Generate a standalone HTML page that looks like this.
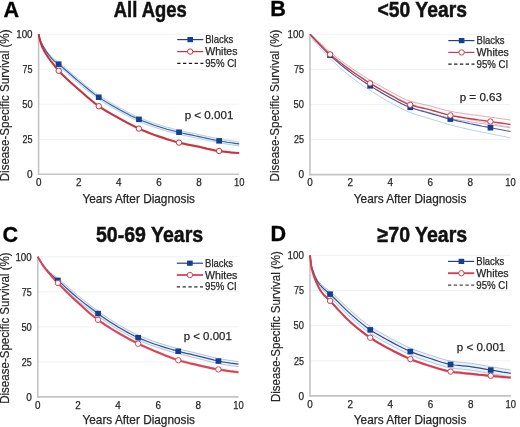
<!DOCTYPE html><html><head><meta charset="utf-8"><style>html,body{margin:0;padding:0;background:#fff;overflow:hidden}svg{display:block}text{font-family:"Liberation Sans", sans-serif}svg{will-change:transform}</style></head><body>
<svg width="520" height="427" viewBox="0 0 520 427">
<rect width="520" height="427" fill="#fff"/>
<g><line x1="38.6" y1="139.3" x2="239.2" y2="139.3" stroke="#f1f1f1" stroke-width="1"/><line x1="38.6" y1="104.2" x2="239.2" y2="104.2" stroke="#f1f1f1" stroke-width="1"/><line x1="38.6" y1="69.2" x2="239.2" y2="69.2" stroke="#f1f1f1" stroke-width="1"/><line x1="38.6" y1="34.2" x2="239.2" y2="34.2" stroke="#f1f1f1" stroke-width="1"/><line x1="38.6" y1="34.2" x2="38.6" y2="175.1" stroke="#c4c4c4" stroke-width="1.6"/><line x1="37.8" y1="174.3" x2="239.2" y2="174.3" stroke="#c4c4c4" stroke-width="1.6"/><text x="27" y="178" font-size="10.5" fill="#262626" stroke="#262626" stroke-width="0.25" textLength="5.6" lengthAdjust="spacingAndGlyphs">0</text><text x="22.6" y="143" font-size="10.5" fill="#262626" stroke="#262626" stroke-width="0.25" textLength="10" lengthAdjust="spacingAndGlyphs">25</text><text x="22.2" y="108" font-size="10.5" fill="#262626" stroke="#262626" stroke-width="0.25" textLength="10.4" lengthAdjust="spacingAndGlyphs">50</text><text x="22.6" y="72.9" font-size="10.5" fill="#262626" stroke="#262626" stroke-width="0.25" textLength="10" lengthAdjust="spacingAndGlyphs">75</text><text x="16.2" y="37.9" font-size="10.5" fill="#262626" stroke="#262626" stroke-width="0.25" textLength="16.4" lengthAdjust="spacingAndGlyphs">100</text><text x="35.9" y="186.1" font-size="10.5" fill="#262626" stroke="#262626" stroke-width="0.25" textLength="5.5" lengthAdjust="spacingAndGlyphs">0</text><text x="76" y="186.1" font-size="10.5" fill="#262626" stroke="#262626" stroke-width="0.25" textLength="5.5" lengthAdjust="spacingAndGlyphs">2</text><text x="116.1" y="186.1" font-size="10.5" fill="#262626" stroke="#262626" stroke-width="0.25" textLength="5.5" lengthAdjust="spacingAndGlyphs">4</text><text x="156.2" y="186.1" font-size="10.5" fill="#262626" stroke="#262626" stroke-width="0.25" textLength="5.5" lengthAdjust="spacingAndGlyphs">6</text><text x="196.3" y="186.1" font-size="10.5" fill="#262626" stroke="#262626" stroke-width="0.25" textLength="5.5" lengthAdjust="spacingAndGlyphs">8</text><text x="233.9" y="186.1" font-size="10.5" fill="#262626" stroke="#262626" stroke-width="0.25" textLength="10.5" lengthAdjust="spacingAndGlyphs">10</text><polygon points="38.6,34.2 40,40.5 41.5,44.8 42.6,47.5 42.9,48.1 44.3,50.8 45.8,53.2 46.6,54.6 47.2,55.5 48.6,57.5 50.1,59.5 50.6,60.2 51.5,61.3 52.9,63 54.4,64.8 54.6,65.1 55.8,66.6 57.2,68.4 58.7,70.1 62.7,74.3 66.7,78.1 70.7,81.7 74.7,85.2 78.7,88.7 82.7,92.3 86.7,95.8 90.8,99.3 94.8,102.5 98.8,105.5 102.8,108.2 106.8,110.6 110.8,113 114.8,115.2 118.8,117.4 122.9,119.7 126.9,121.9 130.9,124 134.9,126 138.9,127.9 142.9,129.7 146.9,131.3 150.9,132.9 154.9,134.4 159,135.8 163,137.1 167,138.5 171,139.7 175,140.9 179,141.9 183,142.9 187,143.7 191.1,144.5 195.1,145.3 199.1,146.1 203.1,147 207.1,148 211.1,148.9 215.1,149.7 219.1,150.3 223.2,150.9 227.2,151.3 231.2,151.7 235.2,152.1 239.2,152.3 239.2,153.7 235.2,153.5 231.2,153.2 227.2,152.7 223.2,152.3 219.1,151.7 215.1,151.1 211.1,150.3 207.1,149.4 203.1,148.4 199.1,147.5 195.1,146.7 191.1,145.9 187,145.1 183,144.3 179,143.3 175,142.3 171,141.1 167,139.9 163,138.5 159,137.2 154.9,135.8 150.9,134.3 146.9,132.7 142.9,131.1 138.9,129.3 134.9,127.4 130.9,125.4 126.9,123.3 122.9,121.1 118.8,118.8 114.8,116.6 110.8,114.4 106.8,112 102.8,109.6 98.8,106.9 94.8,103.9 90.8,100.7 86.7,97.2 82.7,93.7 78.7,90.1 74.7,86.6 70.7,83.1 66.7,79.5 62.7,75.7 58.7,71.5 57.2,69.8 55.8,67.9 54.6,66.4 54.4,66 52.9,64.2 51.5,62.4 50.6,61.3 50.1,60.5 48.6,58.5 47.2,56.4 46.6,55.5 45.8,54.1 44.3,51.6 42.9,48.7 42.6,48.1 41.5,45.4 40,40.9 38.6,34.2" fill="#fbe9ea" stroke="none"/><path d="M38.6,34.2 L40,40.5 L41.5,44.8 L42.6,47.5 L42.9,48.1 L44.3,50.8 L45.8,53.2 L46.6,54.6 L47.2,55.5 L48.6,57.5 L50.1,59.5 L50.6,60.2 L51.5,61.3 L52.9,63 L54.4,64.8 L54.6,65.1 L55.8,66.6 L57.2,68.4 L58.7,70.1 L62.7,74.3 L66.7,78.1 L70.7,81.7 L74.7,85.2 L78.7,88.7 L82.7,92.3 L86.7,95.8 L90.8,99.3 L94.8,102.5 L98.8,105.5 L102.8,108.2 L106.8,110.6 L110.8,113 L114.8,115.2 L118.8,117.4 L122.9,119.7 L126.9,121.9 L130.9,124 L134.9,126 L138.9,127.9 L142.9,129.7 L146.9,131.3 L150.9,132.9 L154.9,134.4 L159,135.8 L163,137.1 L167,138.5 L171,139.7 L175,140.9 L179,141.9 L183,142.9 L187,143.7 L191.1,144.5 L195.1,145.3 L199.1,146.1 L203.1,147 L207.1,148 L211.1,148.9 L215.1,149.7 L219.1,150.3 L223.2,150.9 L227.2,151.3 L231.2,151.7 L235.2,152.1 L239.2,152.3" fill="none" stroke="#eeb0b5" stroke-width="0.8"/><path d="M38.6,34.2 L40,40.9 L41.5,45.4 L42.6,48.1 L42.9,48.7 L44.3,51.6 L45.8,54.1 L46.6,55.5 L47.2,56.4 L48.6,58.5 L50.1,60.5 L50.6,61.3 L51.5,62.4 L52.9,64.2 L54.4,66 L54.6,66.4 L55.8,67.9 L57.2,69.8 L58.7,71.5 L62.7,75.7 L66.7,79.5 L70.7,83.1 L74.7,86.6 L78.7,90.1 L82.7,93.7 L86.7,97.2 L90.8,100.7 L94.8,103.9 L98.8,106.9 L102.8,109.6 L106.8,112 L110.8,114.4 L114.8,116.6 L118.8,118.8 L122.9,121.1 L126.9,123.3 L130.9,125.4 L134.9,127.4 L138.9,129.3 L142.9,131.1 L146.9,132.7 L150.9,134.3 L154.9,135.8 L159,137.2 L163,138.5 L167,139.9 L171,141.1 L175,142.3 L179,143.3 L183,144.3 L187,145.1 L191.1,145.9 L195.1,146.7 L199.1,147.5 L203.1,148.4 L207.1,149.4 L211.1,150.3 L215.1,151.1 L219.1,151.7 L223.2,152.3 L227.2,152.7 L231.2,153.2 L235.2,153.5 L239.2,153.7" fill="none" stroke="#eeb0b5" stroke-width="0.8"/><polygon points="38.6,34.2 40,38.6 41.5,42.2 42.6,44.3 42.9,44.8 44.3,47.2 45.8,49.4 46.6,50.6 47.2,51.4 48.6,53.2 50.1,54.9 50.6,55.6 51.5,56.5 52.9,58 54.4,59.2 54.6,59.4 55.8,60.2 57.2,61.1 58.7,62.1 62.7,65.5 66.7,68.9 70.7,72.5 74.7,76 78.7,79.4 82.7,82.7 86.7,86 90.8,89.3 94.8,92.3 98.8,95.2 102.8,97.9 106.8,100.4 110.8,102.8 114.8,105 118.8,107.3 122.9,109.4 126.9,111.6 130.9,113.6 134.9,115.6 138.9,117.3 142.9,119 146.9,120.6 150.9,122.1 154.9,123.5 159,124.8 163,126 167,127.1 171,128.2 175,129.3 179,130.2 183,131.2 187,132.1 191.1,132.9 195.1,133.7 199.1,134.6 203.1,135.5 207.1,136.3 211.1,137.2 215.1,138 219.1,138.8 223.2,139.5 227.2,140.1 231.2,140.8 235.2,141.3 239.2,141.9 239.2,145.9 235.2,145.4 231.2,144.8 227.2,144.2 223.2,143.5 219.1,142.8 215.1,142.1 211.1,141.3 207.1,140.4 203.1,139.5 199.1,138.6 195.1,137.8 191.1,137 187,136.1 183,135.2 179,134.3 175,133.3 171,132.3 167,131.2 163,130.1 159,128.8 154.9,127.5 150.9,126.1 146.9,124.7 142.9,123.1 138.9,121.4 134.9,119.6 130.9,117.7 126.9,115.6 122.9,113.5 118.8,111.3 114.8,109.1 110.8,106.8 106.8,104.4 102.8,101.9 98.8,99.3 94.8,96.4 90.8,93.3 86.7,90.1 82.7,86.8 78.7,83.4 74.7,80.1 70.7,76.5 66.7,73 62.7,69.5 58.7,66.2 57.2,65.1 55.8,64 54.6,63 54.4,62.8 52.9,61.4 51.5,59.8 50.6,58.7 50.1,58 48.6,56.1 47.2,54 46.6,53.2 45.8,51.8 44.3,49.3 42.9,46.7 42.6,46.1 41.5,43.7 40,39.6 38.6,34.2" fill="#e4f1fb" stroke="none"/><path d="M38.6,34.2 L40,38.6 L41.5,42.2 L42.6,44.3 L42.9,44.8 L44.3,47.2 L45.8,49.4 L46.6,50.6 L47.2,51.4 L48.6,53.2 L50.1,54.9 L50.6,55.6 L51.5,56.5 L52.9,58 L54.4,59.2 L54.6,59.4 L55.8,60.2 L57.2,61.1 L58.7,62.1 L62.7,65.5 L66.7,68.9 L70.7,72.5 L74.7,76 L78.7,79.4 L82.7,82.7 L86.7,86 L90.8,89.3 L94.8,92.3 L98.8,95.2 L102.8,97.9 L106.8,100.4 L110.8,102.8 L114.8,105 L118.8,107.3 L122.9,109.4 L126.9,111.6 L130.9,113.6 L134.9,115.6 L138.9,117.3 L142.9,119 L146.9,120.6 L150.9,122.1 L154.9,123.5 L159,124.8 L163,126 L167,127.1 L171,128.2 L175,129.3 L179,130.2 L183,131.2 L187,132.1 L191.1,132.9 L195.1,133.7 L199.1,134.6 L203.1,135.5 L207.1,136.3 L211.1,137.2 L215.1,138 L219.1,138.8 L223.2,139.5 L227.2,140.1 L231.2,140.8 L235.2,141.3 L239.2,141.9" fill="none" stroke="#a3c6e6" stroke-width="0.8"/><path d="M38.6,34.2 L40,39.6 L41.5,43.7 L42.6,46.1 L42.9,46.7 L44.3,49.3 L45.8,51.8 L46.6,53.2 L47.2,54 L48.6,56.1 L50.1,58 L50.6,58.7 L51.5,59.8 L52.9,61.4 L54.4,62.8 L54.6,63 L55.8,64 L57.2,65.1 L58.7,66.2 L62.7,69.5 L66.7,73 L70.7,76.5 L74.7,80.1 L78.7,83.4 L82.7,86.8 L86.7,90.1 L90.8,93.3 L94.8,96.4 L98.8,99.3 L102.8,101.9 L106.8,104.4 L110.8,106.8 L114.8,109.1 L118.8,111.3 L122.9,113.5 L126.9,115.6 L130.9,117.7 L134.9,119.6 L138.9,121.4 L142.9,123.1 L146.9,124.7 L150.9,126.1 L154.9,127.5 L159,128.8 L163,130.1 L167,131.2 L171,132.3 L175,133.3 L179,134.3 L183,135.2 L187,136.1 L191.1,137 L195.1,137.8 L199.1,138.6 L203.1,139.5 L207.1,140.4 L211.1,141.3 L215.1,142.1 L219.1,142.8 L223.2,143.5 L227.2,144.2 L231.2,144.8 L235.2,145.4 L239.2,145.9" fill="none" stroke="#a3c6e6" stroke-width="0.8"/><path d="M38.6,34.2 L40,39.1 L41.5,42.9 L42.6,45.2 L42.9,45.7 L44.3,48.2 L45.8,50.6 L46.6,51.9 L47.2,52.7 L48.6,54.6 L50.1,56.4 L50.6,57.1 L51.5,58.2 L52.9,59.7 L54.4,61 L54.6,61.2 L55.8,62.1 L57.2,63.1 L58.7,64.2 L62.7,67.5 L66.7,71 L70.7,74.5 L74.7,78 L78.7,81.4 L82.7,84.7 L86.7,88 L90.8,91.3 L94.8,94.4 L98.8,97.2 L102.8,99.9 L106.8,102.4 L110.8,104.8 L114.8,107.1 L118.8,109.3 L122.9,111.5 L126.9,113.6 L130.9,115.7 L134.9,117.6 L138.9,119.4 L142.9,121 L146.9,122.6 L150.9,124.1 L154.9,125.5 L159,126.8 L163,128 L167,129.2 L171,130.3 L175,131.3 L179,132.3 L183,133.2 L187,134.1 L191.1,134.9 L195.1,135.8 L199.1,136.6 L203.1,137.5 L207.1,138.4 L211.1,139.2 L215.1,140.1 L219.1,140.8 L223.2,141.5 L227.2,142.2 L231.2,142.8 L235.2,143.4 L239.2,143.9" fill="none" stroke="#3b5b93" stroke-width="1.1" stroke-linejoin="round"/><path d="M38.6,34.2 L40,40.7 L41.5,45.1 L42.6,47.8 L42.9,48.4 L44.3,51.2 L45.8,53.7 L46.6,55 L47.2,55.9 L48.6,58 L50.1,60 L50.6,60.8 L51.5,61.9 L52.9,63.6 L54.4,65.4 L54.6,65.8 L55.8,67.3 L57.2,69.1 L58.7,70.8 L62.7,75 L66.7,78.8 L70.7,82.4 L74.7,85.9 L78.7,89.4 L82.7,93 L86.7,96.5 L90.8,100 L94.8,103.2 L98.8,106.2 L102.8,108.9 L106.8,111.3 L110.8,113.7 L114.8,115.9 L118.8,118.1 L122.9,120.4 L126.9,122.6 L130.9,124.7 L134.9,126.7 L138.9,128.6 L142.9,130.4 L146.9,132 L150.9,133.6 L154.9,135.1 L159,136.5 L163,137.8 L167,139.2 L171,140.4 L175,141.6 L179,142.6 L183,143.6 L187,144.4 L191.1,145.2 L195.1,146 L199.1,146.8 L203.1,147.7 L207.1,148.7 L211.1,149.6 L215.1,150.4 L219.1,151 L223.2,151.6 L227.2,152 L231.2,152.5 L235.2,152.8 L239.2,153" fill="none" stroke="#c9323b" stroke-width="2.0" stroke-linejoin="round"/><rect x="55.8" y="61.4" width="5.7" height="5.5" fill="#123f8f"/><circle cx="58.7" cy="70.8" r="2.7" fill="#fff" stroke="#c9323b" stroke-width="1"/><rect x="95.9" y="94.5" width="5.7" height="5.5" fill="#123f8f"/><circle cx="98.8" cy="106.2" r="2.7" fill="#fff" stroke="#c9323b" stroke-width="1"/><rect x="136.1" y="116.6" width="5.7" height="5.5" fill="#123f8f"/><circle cx="138.9" cy="128.6" r="2.7" fill="#fff" stroke="#c9323b" stroke-width="1"/><rect x="176.2" y="129.5" width="5.7" height="5.5" fill="#123f8f"/><circle cx="179" cy="142.6" r="2.7" fill="#fff" stroke="#c9323b" stroke-width="1"/><rect x="216.3" y="138.1" width="5.7" height="5.5" fill="#123f8f"/><circle cx="219.1" cy="151" r="2.7" fill="#fff" stroke="#c9323b" stroke-width="1"/><line x1="177.2" y1="39.6" x2="203.4" y2="39.6" stroke="#22408a" stroke-width="1.2"/><rect x="187.4" y="37" width="5.6" height="5.2" fill="#123f8f"/><line x1="177.2" y1="51.6" x2="203.4" y2="51.6" stroke="#c9323b" stroke-width="1.2"/><circle cx="190.2" cy="51.6" r="2.7" fill="#fff" stroke="#c9323b" stroke-width="1"/><line x1="177.2" y1="63.4" x2="203.4" y2="63.4" stroke="#1a1a1a" stroke-width="1.3" stroke-dasharray="3.3,2.5"/><text x="205.2" y="43.2" font-size="10.2" fill="#262626" stroke="#262626" stroke-width="0.25" textLength="28" lengthAdjust="spacingAndGlyphs">Blacks</text><text x="205.2" y="55.2" font-size="10.2" fill="#262626" stroke="#262626" stroke-width="0.25" textLength="32.3" lengthAdjust="spacingAndGlyphs">Whites</text><text x="205.2" y="67" font-size="10.2" fill="#262626" stroke="#262626" stroke-width="0.25" textLength="31.6" lengthAdjust="spacingAndGlyphs">95% CI</text><text x="184.7" y="119" font-size="11.6" fill="#262626" stroke="#262626" stroke-width="0.25" textLength="48.7" lengthAdjust="spacingAndGlyphs">p &lt; 0.001</text><text x="3.6" y="16.8" font-size="21.6" font-weight="bold" fill="#000" stroke="#000" stroke-width="0.3">A</text><text x="113.8" y="16.9" font-size="21.6" font-weight="bold" fill="#111" stroke="#111" stroke-width="0.5" textLength="72.9" lengthAdjust="spacingAndGlyphs">All Ages</text><text x="82.5" y="202.5" font-size="12.1" fill="#262626" stroke="#262626" stroke-width="0.25" textLength="112.5" lengthAdjust="spacingAndGlyphs">Years After Diagnosis</text><text transform="translate(9.2,181.3) rotate(-90)" x="0" y="0" font-size="11.9" fill="#262626" stroke="#262626" stroke-width="0.2" textLength="151.8" lengthAdjust="spacingAndGlyphs">Disease-Specific Survival (%)</text></g>
<g><line x1="310" y1="139.5" x2="510.5" y2="139.5" stroke="#f1f1f1" stroke-width="1"/><line x1="310" y1="104.4" x2="510.5" y2="104.4" stroke="#f1f1f1" stroke-width="1"/><line x1="310" y1="69.3" x2="510.5" y2="69.3" stroke="#f1f1f1" stroke-width="1"/><line x1="310" y1="34.2" x2="510.5" y2="34.2" stroke="#f1f1f1" stroke-width="1"/><line x1="310" y1="34.2" x2="310" y2="175.4" stroke="#c4c4c4" stroke-width="1.6"/><line x1="309.2" y1="174.6" x2="510.5" y2="174.6" stroke="#c4c4c4" stroke-width="1.6"/><text x="298.4" y="178.3" font-size="10.5" fill="#262626" stroke="#262626" stroke-width="0.25" textLength="5.6" lengthAdjust="spacingAndGlyphs">0</text><text x="294" y="143.2" font-size="10.5" fill="#262626" stroke="#262626" stroke-width="0.25" textLength="10" lengthAdjust="spacingAndGlyphs">25</text><text x="293.6" y="108.1" font-size="10.5" fill="#262626" stroke="#262626" stroke-width="0.25" textLength="10.4" lengthAdjust="spacingAndGlyphs">50</text><text x="294" y="73" font-size="10.5" fill="#262626" stroke="#262626" stroke-width="0.25" textLength="10" lengthAdjust="spacingAndGlyphs">75</text><text x="287.6" y="37.9" font-size="10.5" fill="#262626" stroke="#262626" stroke-width="0.25" textLength="16.4" lengthAdjust="spacingAndGlyphs">100</text><text x="307.2" y="186.4" font-size="10.5" fill="#262626" stroke="#262626" stroke-width="0.25" textLength="5.5" lengthAdjust="spacingAndGlyphs">0</text><text x="347.4" y="186.4" font-size="10.5" fill="#262626" stroke="#262626" stroke-width="0.25" textLength="5.5" lengthAdjust="spacingAndGlyphs">2</text><text x="387.4" y="186.4" font-size="10.5" fill="#262626" stroke="#262626" stroke-width="0.25" textLength="5.5" lengthAdjust="spacingAndGlyphs">4</text><text x="427.6" y="186.4" font-size="10.5" fill="#262626" stroke="#262626" stroke-width="0.25" textLength="5.5" lengthAdjust="spacingAndGlyphs">6</text><text x="467.6" y="186.4" font-size="10.5" fill="#262626" stroke="#262626" stroke-width="0.25" textLength="5.5" lengthAdjust="spacingAndGlyphs">8</text><text x="505.2" y="186.4" font-size="10.5" fill="#262626" stroke="#262626" stroke-width="0.25" textLength="10.5" lengthAdjust="spacingAndGlyphs">10</text><path d="M310,34.2 L311.4,34.7 L312.9,36 L314,37 L314.3,37.3 L315.7,38.7 L317.2,40 L318,40.9 L318.6,41.4 L320,42.8 L321.5,44.1 L322,44.7 L322.9,45.5 L324.3,46.9 L325.8,48.3 L326,48.6 L327.2,49.6 L328.6,50.9 L330.1,52.2 L334.1,55.4 L338.1,58.5 L342.1,61.4 L346.1,64.3 L350.1,67.1 L354.1,69.9 L358.1,72.6 L362.1,75.2 L366.1,77.7 L370.1,80.2 L374.2,82.6 L378.2,84.9 L382.2,87.2 L386.2,89.3 L390.2,91.4 L394.2,93.6 L398.2,95.8 L402.2,97.8 L406.2,99.7 L410.2,101.2 L414.3,102.4 L418.3,103.3 L422.3,104.2 L426.3,105.1 L430.3,106 L434.3,107.1 L438.3,108.2 L442.3,109.4 L446.3,110.4 L450.4,111.3 L454.4,112.1 L458.4,112.7 L462.4,113.4 L466.4,114 L470.4,114.5 L474.4,115.1 L478.4,115.6 L482.4,116.1 L486.4,116.7 L490.4,117.2 L494.5,117.7 L498.5,118.3 L502.5,118.9 L506.5,119.4 L510.5,120" fill="none" stroke="#eb9aa2" stroke-width="0.9"/><path d="M310,34.2 L311.4,36.5 L312.9,38.2 L314,39.5 L314.3,39.8 L315.7,41.4 L317.2,42.9 L318,43.8 L318.6,44.4 L320,46 L321.5,47.5 L322,48.1 L322.9,49 L324.3,50.5 L325.8,52 L326,52.2 L327.2,53.4 L328.6,54.8 L330.1,56.1 L334.1,59.6 L338.1,62.9 L342.1,66 L346.1,69 L350.1,71.9 L354.1,74.8 L358.1,77.7 L362.1,80.4 L366.1,83.1 L370.1,85.7 L374.2,88.2 L378.2,90.6 L382.2,92.9 L386.2,95.2 L390.2,97.4 L394.2,99.6 L398.2,101.9 L402.2,104 L406.2,106 L410.2,107.6 L414.3,108.8 L418.3,109.9 L422.3,110.8 L426.3,111.7 L430.3,112.8 L434.3,113.9 L438.3,115.1 L442.3,116.3 L446.3,117.4 L450.4,118.4 L454.4,119.2 L458.4,119.9 L462.4,120.6 L466.4,121.2 L470.4,121.9 L474.4,122.5 L478.4,123.1 L482.4,123.6 L486.4,124.2 L490.4,124.8 L494.5,125.4 L498.5,126 L502.5,126.6 L506.5,127.2 L510.5,127.8" fill="none" stroke="#eb9aa2" stroke-width="0.9"/><path d="M310,34.2 L311.4,35 L312.9,36.4 L314,37.6 L314.3,37.9 L315.7,39.3 L317.2,40.7 L318,41.6 L318.6,42.2 L320,43.6 L321.5,45 L322,45.6 L322.9,46.5 L324.3,47.9 L325.8,49.3 L326,49.6 L327.2,50.7 L328.6,52 L330.1,53.3 L334.1,56.8 L338.1,60.2 L342.1,63.5 L346.1,66.6 L350.1,69.6 L354.1,72.5 L358.1,75.2 L362.1,77.9 L366.1,80.5 L370.1,83 L374.2,85.4 L378.2,87.8 L382.2,90.1 L386.2,92.3 L390.2,94.5 L394.2,96.5 L398.2,98.6 L402.2,100.5 L406.2,102.3 L410.2,103.9 L414.3,105.2 L418.3,106.4 L422.3,107.5 L426.3,108.6 L430.3,109.7 L434.3,110.9 L438.3,112 L442.3,113.1 L446.3,114.2 L450.4,115.3 L454.4,116.2 L458.4,117.1 L462.4,118 L466.4,118.9 L470.4,119.7 L474.4,120.5 L478.4,121.3 L482.4,122 L486.4,122.7 L490.4,123.5 L494.5,124.2 L498.5,124.9 L502.5,125.7 L506.5,126.4 L510.5,127.1" fill="none" stroke="#adc9e8" stroke-width="0.9"/><path d="M310,34.2 L311.4,37.5 L312.9,39.4 L314,40.9 L314.3,41.2 L315.7,43 L317.2,44.7 L318,45.7 L318.6,46.3 L320,47.9 L321.5,49.5 L322,50.2 L322.9,51.1 L324.3,52.7 L325.8,54.2 L326,54.5 L327.2,55.7 L328.6,57.2 L330.1,58.6 L334.1,62.4 L338.1,66.1 L342.1,69.6 L346.1,73 L350.1,76.2 L354.1,79.2 L358.1,82.2 L362.1,85 L366.1,87.7 L370.1,90.4 L374.2,93 L378.2,95.5 L382.2,98 L386.2,100.3 L390.2,102.6 L394.2,104.8 L398.2,106.9 L402.2,109 L406.2,110.9 L410.2,112.6 L414.3,114 L418.3,115.3 L422.3,116.5 L426.3,117.7 L430.3,118.9 L434.3,120.1 L438.3,121.3 L442.3,122.6 L446.3,123.7 L450.4,124.8 L454.4,125.9 L458.4,126.9 L462.4,127.9 L466.4,128.8 L470.4,129.7 L474.4,130.6 L478.4,131.4 L482.4,132.2 L486.4,133 L490.4,133.8 L494.5,134.6 L498.5,135.4 L502.5,136.2 L506.5,137 L510.5,137.8" fill="none" stroke="#adc9e8" stroke-width="0.9"/><path d="M310,34.2 L311.4,35.8 L312.9,37.4 L314,38.7 L314.3,39 L315.7,40.6 L317.2,42.1 L318,43 L318.6,43.6 L320,45.2 L321.5,46.7 L322,47.3 L322.9,48.1 L324.3,49.6 L325.8,51.1 L326,51.4 L327.2,52.5 L328.6,53.9 L330.1,55.3 L334.1,58.9 L338.1,62.4 L342.1,65.8 L346.1,69 L350.1,72.1 L354.1,75.1 L358.1,77.9 L362.1,80.6 L366.1,83.3 L370.1,85.9 L374.2,88.4 L378.2,90.8 L382.2,93.2 L386.2,95.5 L390.2,97.7 L394.2,99.8 L398.2,101.9 L402.2,103.9 L406.2,105.7 L410.2,107.3 L414.3,108.7 L418.3,110 L422.3,111.1 L426.3,112.2 L430.3,113.4 L434.3,114.6 L438.3,115.8 L442.3,116.9 L446.3,118.1 L450.4,119.1 L454.4,120.1 L458.4,121.1 L462.4,122 L466.4,122.9 L470.4,123.8 L474.4,124.6 L478.4,125.4 L482.4,126.2 L486.4,126.9 L490.4,127.7 L494.5,128.5 L498.5,129.2 L502.5,130 L506.5,130.8 L510.5,131.5" fill="none" stroke="#3d5cab" stroke-width="1.1" stroke-linejoin="round"/><path d="M310,34.2 L311.4,35.7 L312.9,37.2 L314,38.4 L314.3,38.7 L315.7,40.2 L317.2,41.7 L318,42.6 L318.6,43.1 L320,44.6 L321.5,46 L322,46.6 L322.9,47.5 L324.3,49 L325.8,50.4 L326,50.7 L327.2,51.8 L328.6,53.1 L330.1,54.4 L334.1,57.8 L338.1,61 L342.1,64 L346.1,67 L350.1,69.9 L354.1,72.7 L358.1,75.5 L362.1,78.2 L366.1,80.8 L370.1,83.3 L374.2,85.8 L378.2,88.2 L382.2,90.5 L386.2,92.7 L390.2,94.9 L394.2,97 L398.2,99.3 L402.2,101.4 L406.2,103.3 L410.2,104.8 L414.3,106 L418.3,107.1 L422.3,108 L426.3,108.9 L430.3,109.9 L434.3,111 L438.3,112.2 L442.3,113.3 L446.3,114.4 L450.4,115.4 L454.4,116.1 L458.4,116.8 L462.4,117.5 L466.4,118.1 L470.4,118.7 L474.4,119.3 L478.4,119.9 L482.4,120.4 L486.4,121 L490.4,121.5 L494.5,122.1 L498.5,122.7 L502.5,123.3 L506.5,123.9 L510.5,124.5" fill="none" stroke="#cf3d44" stroke-width="1.4" stroke-linejoin="round"/><rect x="327.2" y="52.5" width="5.7" height="5.5" fill="#123f8f"/><circle cx="330.1" cy="54.4" r="2.7" fill="#fff" stroke="#cf3d44" stroke-width="1"/><rect x="367.3" y="83.1" width="5.7" height="5.5" fill="#123f8f"/><circle cx="370.1" cy="83.3" r="2.7" fill="#fff" stroke="#cf3d44" stroke-width="1"/><rect x="407.4" y="104.6" width="5.7" height="5.5" fill="#123f8f"/><circle cx="410.2" cy="104.8" r="2.7" fill="#fff" stroke="#cf3d44" stroke-width="1"/><rect x="447.5" y="116.4" width="5.7" height="5.5" fill="#123f8f"/><circle cx="450.4" cy="115.4" r="2.7" fill="#fff" stroke="#cf3d44" stroke-width="1"/><rect x="487.6" y="125" width="5.7" height="5.5" fill="#123f8f"/><circle cx="490.4" cy="121.5" r="2.7" fill="#fff" stroke="#cf3d44" stroke-width="1"/><line x1="448.3" y1="40.6" x2="474.5" y2="40.6" stroke="#22408a" stroke-width="1.2"/><rect x="458.8" y="38" width="5.6" height="5.2" fill="#123f8f"/><line x1="448.3" y1="52.4" x2="474.5" y2="52.4" stroke="#cf3d44" stroke-width="1.2"/><circle cx="461.6" cy="52.4" r="2.7" fill="#fff" stroke="#cf3d44" stroke-width="1"/><line x1="448.3" y1="64.2" x2="474.5" y2="64.2" stroke="#1a1a1a" stroke-width="1.3" stroke-dasharray="3.3,2.5"/><text x="476.6" y="44.2" font-size="10.2" fill="#262626" stroke="#262626" stroke-width="0.25" textLength="28" lengthAdjust="spacingAndGlyphs">Blacks</text><text x="476.6" y="56" font-size="10.2" fill="#262626" stroke="#262626" stroke-width="0.25" textLength="32.3" lengthAdjust="spacingAndGlyphs">Whites</text><text x="476.6" y="67.8" font-size="10.2" fill="#262626" stroke="#262626" stroke-width="0.25" textLength="31.6" lengthAdjust="spacingAndGlyphs">95% CI</text><text x="459.7" y="100.5" font-size="11.6" fill="#262626" stroke="#262626" stroke-width="0.25" textLength="42.3" lengthAdjust="spacingAndGlyphs">p = 0.63</text><text x="270.2" y="16.4" font-size="21.6" font-weight="bold" fill="#000" stroke="#000" stroke-width="0.3">B</text><text x="377.6" y="17.3" font-size="21.6" font-weight="bold" fill="#111" stroke="#111" stroke-width="0.5" textLength="89.3" lengthAdjust="spacingAndGlyphs">&lt;50 Years</text><text x="353.8" y="203" font-size="12.1" fill="#262626" stroke="#262626" stroke-width="0.25" textLength="112.5" lengthAdjust="spacingAndGlyphs">Years After Diagnosis</text><text transform="translate(279.4,181.4) rotate(-90)" x="0" y="0" font-size="11.9" fill="#262626" stroke="#262626" stroke-width="0.2" textLength="151.8" lengthAdjust="spacingAndGlyphs">Disease-Specific Survival (%)</text></g>
<g><line x1="37.8" y1="361.9" x2="238.5" y2="361.9" stroke="#f1f1f1" stroke-width="1"/><line x1="37.8" y1="326.9" x2="238.5" y2="326.9" stroke="#f1f1f1" stroke-width="1"/><line x1="37.8" y1="291.8" x2="238.5" y2="291.8" stroke="#f1f1f1" stroke-width="1"/><line x1="37.8" y1="256.8" x2="238.5" y2="256.8" stroke="#f1f1f1" stroke-width="1"/><line x1="37.8" y1="256.8" x2="37.8" y2="397.7" stroke="#c4c4c4" stroke-width="1.6"/><line x1="37" y1="396.9" x2="238.5" y2="396.9" stroke="#c4c4c4" stroke-width="1.6"/><text x="26.2" y="400.6" font-size="10.5" fill="#262626" stroke="#262626" stroke-width="0.25" textLength="5.6" lengthAdjust="spacingAndGlyphs">0</text><text x="21.8" y="365.6" font-size="10.5" fill="#262626" stroke="#262626" stroke-width="0.25" textLength="10" lengthAdjust="spacingAndGlyphs">25</text><text x="21.4" y="330.6" font-size="10.5" fill="#262626" stroke="#262626" stroke-width="0.25" textLength="10.4" lengthAdjust="spacingAndGlyphs">50</text><text x="21.8" y="295.5" font-size="10.5" fill="#262626" stroke="#262626" stroke-width="0.25" textLength="10" lengthAdjust="spacingAndGlyphs">75</text><text x="15.4" y="260.5" font-size="10.5" fill="#262626" stroke="#262626" stroke-width="0.25" textLength="16.4" lengthAdjust="spacingAndGlyphs">100</text><text x="35" y="408.7" font-size="10.5" fill="#262626" stroke="#262626" stroke-width="0.25" textLength="5.5" lengthAdjust="spacingAndGlyphs">0</text><text x="75.2" y="408.7" font-size="10.5" fill="#262626" stroke="#262626" stroke-width="0.25" textLength="5.5" lengthAdjust="spacingAndGlyphs">2</text><text x="115.3" y="408.7" font-size="10.5" fill="#262626" stroke="#262626" stroke-width="0.25" textLength="5.5" lengthAdjust="spacingAndGlyphs">4</text><text x="155.5" y="408.7" font-size="10.5" fill="#262626" stroke="#262626" stroke-width="0.25" textLength="5.5" lengthAdjust="spacingAndGlyphs">6</text><text x="195.6" y="408.7" font-size="10.5" fill="#262626" stroke="#262626" stroke-width="0.25" textLength="5.5" lengthAdjust="spacingAndGlyphs">8</text><text x="233.2" y="408.7" font-size="10.5" fill="#262626" stroke="#262626" stroke-width="0.25" textLength="10.5" lengthAdjust="spacingAndGlyphs">10</text><polygon points="37.8,256.8 39.2,259.1 40.7,261.5 41.8,263.3 42.1,263.7 43.5,265.8 45,267.7 45.8,268.8 46.4,269.5 47.8,271.2 49.3,272.8 49.8,273.5 50.7,274.5 52.1,276.1 53.6,277.6 53.9,278 55,279.2 56.4,280.7 57.9,282.2 61.9,286.3 65.9,290.3 69.9,294.2 73.9,298.1 77.9,301.8 82,305.4 86,309.1 90,312.6 94,315.9 98,319 102,321.9 106,324.6 110.1,327.2 114.1,329.6 118.1,332 122.1,334.4 126.1,336.6 130.1,338.8 134.1,340.8 138.1,342.8 142.2,344.7 146.2,346.5 150.2,348.3 154.2,350 158.2,351.6 162.2,353.3 166.2,355 170.3,356.6 174.3,358 178.3,359.4 182.3,360.5 186.3,361.6 190.3,362.5 194.3,363.5 198.4,364.4 202.4,365.3 206.4,366.2 210.4,367.1 214.4,367.9 218.4,368.6 222.4,369.3 226.5,369.9 230.5,370.4 234.5,370.9 238.5,371.4 238.5,373.1 234.5,372.6 230.5,372.1 226.5,371.5 222.4,370.9 218.4,370.3 214.4,369.6 210.4,368.8 206.4,367.9 202.4,367 198.4,366.1 194.3,365.2 190.3,364.2 186.3,363.2 182.3,362.2 178.3,361 174.3,359.7 170.3,358.2 166.2,356.6 162.2,355 158.2,353.3 154.2,351.7 150.2,350 146.2,348.2 142.2,346.4 138.1,344.5 134.1,342.5 130.1,340.4 126.1,338.3 122.1,336 118.1,333.7 114.1,331.3 110.1,328.9 106,326.3 102,323.6 98,320.7 94,317.6 90,314.2 86,310.7 82,307.1 77.9,303.5 73.9,299.7 69.9,295.9 65.9,292 61.9,288 57.9,283.8 56.4,282.3 55,280.7 53.9,279.5 53.6,279.1 52.1,277.5 50.7,275.8 49.8,274.8 49.3,274.1 47.8,272.4 46.4,270.6 45.8,269.8 45,268.7 43.5,266.7 42.1,264.5 41.8,264 40.7,262.1 39.2,259.6 37.8,256.8" fill="#fbe9ea" stroke="none"/><path d="M37.8,256.8 L39.2,259.1 L40.7,261.5 L41.8,263.3 L42.1,263.7 L43.5,265.8 L45,267.7 L45.8,268.8 L46.4,269.5 L47.8,271.2 L49.3,272.8 L49.8,273.5 L50.7,274.5 L52.1,276.1 L53.6,277.6 L53.9,278 L55,279.2 L56.4,280.7 L57.9,282.2 L61.9,286.3 L65.9,290.3 L69.9,294.2 L73.9,298.1 L77.9,301.8 L82,305.4 L86,309.1 L90,312.6 L94,315.9 L98,319 L102,321.9 L106,324.6 L110.1,327.2 L114.1,329.6 L118.1,332 L122.1,334.4 L126.1,336.6 L130.1,338.8 L134.1,340.8 L138.1,342.8 L142.2,344.7 L146.2,346.5 L150.2,348.3 L154.2,350 L158.2,351.6 L162.2,353.3 L166.2,355 L170.3,356.6 L174.3,358 L178.3,359.4 L182.3,360.5 L186.3,361.6 L190.3,362.5 L194.3,363.5 L198.4,364.4 L202.4,365.3 L206.4,366.2 L210.4,367.1 L214.4,367.9 L218.4,368.6 L222.4,369.3 L226.5,369.9 L230.5,370.4 L234.5,370.9 L238.5,371.4" fill="none" stroke="#f3aab3" stroke-width="0.8"/><path d="M37.8,256.8 L39.2,259.6 L40.7,262.1 L41.8,264 L42.1,264.5 L43.5,266.7 L45,268.7 L45.8,269.8 L46.4,270.6 L47.8,272.4 L49.3,274.1 L49.8,274.8 L50.7,275.8 L52.1,277.5 L53.6,279.1 L53.9,279.5 L55,280.7 L56.4,282.3 L57.9,283.8 L61.9,288 L65.9,292 L69.9,295.9 L73.9,299.7 L77.9,303.5 L82,307.1 L86,310.7 L90,314.2 L94,317.6 L98,320.7 L102,323.6 L106,326.3 L110.1,328.9 L114.1,331.3 L118.1,333.7 L122.1,336 L126.1,338.3 L130.1,340.4 L134.1,342.5 L138.1,344.5 L142.2,346.4 L146.2,348.2 L150.2,350 L154.2,351.7 L158.2,353.3 L162.2,355 L166.2,356.6 L170.3,358.2 L174.3,359.7 L178.3,361 L182.3,362.2 L186.3,363.2 L190.3,364.2 L194.3,365.2 L198.4,366.1 L202.4,367 L206.4,367.9 L210.4,368.8 L214.4,369.6 L218.4,370.3 L222.4,370.9 L226.5,371.5 L230.5,372.1 L234.5,372.6 L238.5,373.1" fill="none" stroke="#f3aab3" stroke-width="0.8"/><polygon points="37.8,256.8 39.2,258.9 40.7,261.1 41.8,262.7 42.1,263.1 43.5,265 45,266.7 45.8,267.7 46.4,268.3 47.8,269.8 49.3,271.2 49.8,271.7 50.7,272.5 52.1,273.8 53.6,275 53.9,275.2 55,276.1 56.4,277.2 57.9,278.4 61.9,281.7 65.9,285.1 69.9,288.7 73.9,292.2 77.9,295.6 82,298.9 86,302 90,305.1 94,308.1 98,311 102,313.9 106,316.7 110.1,319.4 114.1,322 118.1,324.5 122.1,326.8 126.1,329.1 130.1,331.2 134.1,333.2 138.1,335.1 142.2,336.8 146.2,338.5 150.2,340 154.2,341.5 158.2,342.8 162.2,344.1 166.2,345.3 170.3,346.5 174.3,347.6 178.3,348.7 182.3,349.7 186.3,350.7 190.3,351.7 194.3,352.6 198.4,353.6 202.4,354.6 206.4,355.7 210.4,356.7 214.4,357.7 218.4,358.5 222.4,359.2 226.5,359.9 230.5,360.6 234.5,361.1 238.5,361.6 238.5,366.6 234.5,366.2 230.5,365.6 226.5,365 222.4,364.3 218.4,363.6 214.4,362.7 210.4,361.8 206.4,360.7 202.4,359.7 198.4,358.7 194.3,357.7 190.3,356.7 186.3,355.8 182.3,354.8 178.3,353.7 174.3,352.7 170.3,351.5 166.2,350.4 162.2,349.2 158.2,347.9 154.2,346.5 150.2,345.1 146.2,343.5 142.2,341.9 138.1,340.2 134.1,338.3 130.1,336.3 126.1,334.1 122.1,331.9 118.1,329.5 114.1,327.1 110.1,324.4 106,321.7 102,318.9 98,316.1 94,313.1 90,310.2 86,307.1 82,303.9 77.9,300.7 73.9,297.3 69.9,293.7 65.9,290 61.9,286.1 57.9,282.3 56.4,281 55,279.7 53.9,278.6 53.6,278.4 52.1,277 50.7,275.5 49.8,274.6 49.3,274 47.8,272.4 46.4,270.7 45.8,269.9 45,268.8 43.5,266.9 42.1,264.7 41.8,264.2 40.7,262.3 39.2,259.7 37.8,256.8" fill="#eaf3fb" stroke="none"/><path d="M37.8,256.8 L39.2,258.9 L40.7,261.1 L41.8,262.7 L42.1,263.1 L43.5,265 L45,266.7 L45.8,267.7 L46.4,268.3 L47.8,269.8 L49.3,271.2 L49.8,271.7 L50.7,272.5 L52.1,273.8 L53.6,275 L53.9,275.2 L55,276.1 L56.4,277.2 L57.9,278.4 L61.9,281.7 L65.9,285.1 L69.9,288.7 L73.9,292.2 L77.9,295.6 L82,298.9 L86,302 L90,305.1 L94,308.1 L98,311 L102,313.9 L106,316.7 L110.1,319.4 L114.1,322 L118.1,324.5 L122.1,326.8 L126.1,329.1 L130.1,331.2 L134.1,333.2 L138.1,335.1 L142.2,336.8 L146.2,338.5 L150.2,340 L154.2,341.5 L158.2,342.8 L162.2,344.1 L166.2,345.3 L170.3,346.5 L174.3,347.6 L178.3,348.7 L182.3,349.7 L186.3,350.7 L190.3,351.7 L194.3,352.6 L198.4,353.6 L202.4,354.6 L206.4,355.7 L210.4,356.7 L214.4,357.7 L218.4,358.5 L222.4,359.2 L226.5,359.9 L230.5,360.6 L234.5,361.1 L238.5,361.6" fill="none" stroke="#9fb8d8" stroke-width="0.8"/><path d="M37.8,256.8 L39.2,259.7 L40.7,262.3 L41.8,264.2 L42.1,264.7 L43.5,266.9 L45,268.8 L45.8,269.9 L46.4,270.7 L47.8,272.4 L49.3,274 L49.8,274.6 L50.7,275.5 L52.1,277 L53.6,278.4 L53.9,278.6 L55,279.7 L56.4,281 L57.9,282.3 L61.9,286.1 L65.9,290 L69.9,293.7 L73.9,297.3 L77.9,300.7 L82,303.9 L86,307.1 L90,310.2 L94,313.1 L98,316.1 L102,318.9 L106,321.7 L110.1,324.4 L114.1,327.1 L118.1,329.5 L122.1,331.9 L126.1,334.1 L130.1,336.3 L134.1,338.3 L138.1,340.2 L142.2,341.9 L146.2,343.5 L150.2,345.1 L154.2,346.5 L158.2,347.9 L162.2,349.2 L166.2,350.4 L170.3,351.5 L174.3,352.7 L178.3,353.7 L182.3,354.8 L186.3,355.8 L190.3,356.7 L194.3,357.7 L198.4,358.7 L202.4,359.7 L206.4,360.7 L210.4,361.8 L214.4,362.7 L218.4,363.6 L222.4,364.3 L226.5,365 L230.5,365.6 L234.5,366.2 L238.5,366.6" fill="none" stroke="#9fb8d8" stroke-width="0.8"/><path d="M37.8,256.8 L39.2,259.3 L40.7,261.7 L41.8,263.5 L42.1,263.9 L43.5,265.9 L45,267.8 L45.8,268.8 L46.4,269.5 L47.8,271.1 L49.3,272.6 L49.8,273.2 L50.7,274 L52.1,275.4 L53.6,276.7 L53.9,276.9 L55,277.9 L56.4,279.1 L57.9,280.3 L61.9,283.9 L65.9,287.6 L69.9,291.2 L73.9,294.7 L77.9,298.1 L82,301.4 L86,304.6 L90,307.6 L94,310.6 L98,313.5 L102,316.4 L106,319.2 L110.1,321.9 L114.1,324.5 L118.1,327 L122.1,329.3 L126.1,331.6 L130.1,333.7 L134.1,335.8 L138.1,337.6 L142.2,339.4 L146.2,341 L150.2,342.5 L154.2,344 L158.2,345.3 L162.2,346.6 L166.2,347.9 L170.3,349 L174.3,350.1 L178.3,351.2 L182.3,352.3 L186.3,353.3 L190.3,354.2 L194.3,355.2 L198.4,356.1 L202.4,357.1 L206.4,358.2 L210.4,359.2 L214.4,360.2 L218.4,361 L222.4,361.8 L226.5,362.5 L230.5,363.1 L234.5,363.6 L238.5,364.1" fill="none" stroke="#33508c" stroke-width="1.2" stroke-linejoin="round"/><path d="M37.8,256.8 L39.2,259.4 L40.7,261.8 L41.8,263.6 L42.1,264.1 L43.5,266.2 L45,268.2 L45.8,269.3 L46.4,270 L47.8,271.8 L49.3,273.5 L49.8,274.1 L50.7,275.1 L52.1,276.8 L53.6,278.4 L53.9,278.7 L55,280 L56.4,281.5 L57.9,283 L61.9,287.1 L65.9,291.2 L69.9,295.1 L73.9,298.9 L77.9,302.6 L82,306.3 L86,309.9 L90,313.4 L94,316.7 L98,319.8 L102,322.7 L106,325.4 L110.1,328 L114.1,330.5 L118.1,332.9 L122.1,335.2 L126.1,337.4 L130.1,339.6 L134.1,341.7 L138.1,343.7 L142.2,345.6 L146.2,347.4 L150.2,349.1 L154.2,350.8 L158.2,352.5 L162.2,354.1 L166.2,355.8 L170.3,357.4 L174.3,358.9 L178.3,360.2 L182.3,361.4 L186.3,362.4 L190.3,363.4 L194.3,364.3 L198.4,365.2 L202.4,366.2 L206.4,367.1 L210.4,367.9 L214.4,368.7 L218.4,369.4 L222.4,370.1 L226.5,370.7 L230.5,371.3 L234.5,371.8 L238.5,372.2" fill="none" stroke="#da4456" stroke-width="2.0" stroke-linejoin="round"/><rect x="55" y="277.6" width="5.7" height="5.5" fill="#123f8f"/><circle cx="57.9" cy="283" r="2.7" fill="#fff" stroke="#da4456" stroke-width="1"/><rect x="95.2" y="310.8" width="5.7" height="5.5" fill="#123f8f"/><circle cx="98" cy="319.8" r="2.7" fill="#fff" stroke="#da4456" stroke-width="1"/><rect x="135.3" y="334.9" width="5.7" height="5.5" fill="#123f8f"/><circle cx="138.1" cy="343.7" r="2.7" fill="#fff" stroke="#da4456" stroke-width="1"/><rect x="175.4" y="348.5" width="5.7" height="5.5" fill="#123f8f"/><circle cx="178.3" cy="360.2" r="2.7" fill="#fff" stroke="#da4456" stroke-width="1"/><rect x="215.6" y="358.3" width="5.7" height="5.5" fill="#123f8f"/><circle cx="218.4" cy="369.4" r="2.7" fill="#fff" stroke="#da4456" stroke-width="1"/><line x1="176.8" y1="263.2" x2="203" y2="263.2" stroke="#22408a" stroke-width="1.2"/><rect x="187.1" y="260.6" width="5.6" height="5.2" fill="#123f8f"/><line x1="176.8" y1="275" x2="203" y2="275" stroke="#da4456" stroke-width="1.8"/><circle cx="189.9" cy="275" r="2.7" fill="#fff" stroke="#da4456" stroke-width="1"/><line x1="176.8" y1="286.8" x2="203" y2="286.8" stroke="#2a2a2a" stroke-width="1.3" stroke-dasharray="3.3,2.5"/><text x="205.1" y="266.8" font-size="10.2" fill="#262626" stroke="#262626" stroke-width="0.25" textLength="28" lengthAdjust="spacingAndGlyphs">Blacks</text><text x="205.1" y="278.6" font-size="10.2" fill="#262626" stroke="#262626" stroke-width="0.25" textLength="32.3" lengthAdjust="spacingAndGlyphs">Whites</text><text x="205.1" y="290.4" font-size="10.2" fill="#262626" stroke="#262626" stroke-width="0.25" textLength="31.6" lengthAdjust="spacingAndGlyphs">95% CI</text><text x="183.7" y="340.2" font-size="11.6" fill="#262626" stroke="#262626" stroke-width="0.25" textLength="48.1" lengthAdjust="spacingAndGlyphs">p &lt; 0.001</text><text x="2.6" y="241.6" font-size="21.6" font-weight="bold" fill="#000" stroke="#000" stroke-width="0.3">C</text><text x="96" y="241.6" font-size="21.6" font-weight="bold" fill="#111" stroke="#111" stroke-width="0.5" textLength="107.2" lengthAdjust="spacingAndGlyphs">50-69 Years</text><text x="82.5" y="424.2" font-size="12.1" fill="#262626" stroke="#262626" stroke-width="0.25" textLength="112.5" lengthAdjust="spacingAndGlyphs">Years After Diagnosis</text><text transform="translate(9.1,403.8) rotate(-90)" x="0" y="0" font-size="11.9" fill="#262626" stroke="#262626" stroke-width="0.2" textLength="151.4" lengthAdjust="spacingAndGlyphs">Disease-Specific Survival (%)</text></g>
<g><line x1="310" y1="360.8" x2="510.8" y2="360.8" stroke="#f1f1f1" stroke-width="1"/><line x1="310" y1="325.6" x2="510.8" y2="325.6" stroke="#f1f1f1" stroke-width="1"/><line x1="310" y1="290.5" x2="510.8" y2="290.5" stroke="#f1f1f1" stroke-width="1"/><line x1="310" y1="255.4" x2="510.8" y2="255.4" stroke="#f1f1f1" stroke-width="1"/><line x1="310" y1="255.4" x2="310" y2="396.7" stroke="#c4c4c4" stroke-width="1.6"/><line x1="309.2" y1="395.9" x2="510.8" y2="395.9" stroke="#c4c4c4" stroke-width="1.6"/><text x="298.4" y="399.6" font-size="10.5" fill="#262626" stroke="#262626" stroke-width="0.25" textLength="5.6" lengthAdjust="spacingAndGlyphs">0</text><text x="294" y="364.5" font-size="10.5" fill="#262626" stroke="#262626" stroke-width="0.25" textLength="10" lengthAdjust="spacingAndGlyphs">25</text><text x="293.6" y="329.3" font-size="10.5" fill="#262626" stroke="#262626" stroke-width="0.25" textLength="10.4" lengthAdjust="spacingAndGlyphs">50</text><text x="294" y="294.2" font-size="10.5" fill="#262626" stroke="#262626" stroke-width="0.25" textLength="10" lengthAdjust="spacingAndGlyphs">75</text><text x="287.6" y="259.1" font-size="10.5" fill="#262626" stroke="#262626" stroke-width="0.25" textLength="16.4" lengthAdjust="spacingAndGlyphs">100</text><text x="307.2" y="407.7" font-size="10.5" fill="#262626" stroke="#262626" stroke-width="0.25" textLength="5.5" lengthAdjust="spacingAndGlyphs">0</text><text x="347.4" y="407.7" font-size="10.5" fill="#262626" stroke="#262626" stroke-width="0.25" textLength="5.5" lengthAdjust="spacingAndGlyphs">2</text><text x="387.6" y="407.7" font-size="10.5" fill="#262626" stroke="#262626" stroke-width="0.25" textLength="5.5" lengthAdjust="spacingAndGlyphs">4</text><text x="427.7" y="407.7" font-size="10.5" fill="#262626" stroke="#262626" stroke-width="0.25" textLength="5.5" lengthAdjust="spacingAndGlyphs">6</text><text x="467.9" y="407.7" font-size="10.5" fill="#262626" stroke="#262626" stroke-width="0.25" textLength="5.5" lengthAdjust="spacingAndGlyphs">8</text><text x="505.6" y="407.7" font-size="10.5" fill="#262626" stroke="#262626" stroke-width="0.25" textLength="10.5" lengthAdjust="spacingAndGlyphs">10</text><polygon points="310,255.4 311.4,267.2 312.9,272.6 314,276.1 314.3,276.8 315.7,280.3 317.2,283.5 318,285.4 318.6,286.5 320,289.1 321.5,291.3 322,292.1 322.9,293.1 324.3,294.7 325.8,296.1 326.1,296.3 327.2,297.4 328.6,298.7 330.1,300.1 334.1,304.4 338.1,308.7 342.1,313.1 346.1,317.2 350.2,321 354.2,324.5 358.2,327.9 362.2,331.1 366.2,334.1 370.2,336.9 374.3,339.5 378.3,341.9 382.3,344.2 386.3,346.4 390.3,348.6 394.3,350.7 398.4,352.7 402.4,354.7 406.4,356.5 410.4,358.2 414.4,359.8 418.4,361.3 422.4,362.7 426.5,364 430.5,365.3 434.5,366.5 438.5,367.8 442.5,369 446.5,370 450.6,370.8 454.6,371.3 458.6,371.8 462.6,372.2 466.6,372.6 470.6,373 474.7,373.4 478.7,373.8 482.7,374.2 486.7,374.6 490.7,375 494.7,375.3 498.8,375.7 502.8,376.1 506.8,376.4 510.8,376.8 510.8,378.5 506.8,378.1 502.8,377.8 498.8,377.4 494.7,377 490.7,376.7 486.7,376.3 482.7,375.9 478.7,375.5 474.7,375.1 470.6,374.7 466.6,374.3 462.6,373.9 458.6,373.5 454.6,373 450.6,372.4 446.5,371.7 442.5,370.6 438.5,369.5 434.5,368.2 430.5,367 426.5,365.7 422.4,364.4 418.4,363 414.4,361.5 410.4,359.9 406.4,358.2 402.4,356.4 398.4,354.4 394.3,352.3 390.3,350.2 386.3,348.1 382.3,345.9 378.3,343.6 374.3,341.2 370.2,338.6 366.2,335.8 362.2,332.8 358.2,329.6 354.2,326.2 350.2,322.7 346.1,318.9 342.1,314.7 338.1,310.4 334.1,306 330.1,301.8 328.6,300.3 327.2,298.9 326.1,297.8 325.8,297.6 324.3,296.1 322.9,294.5 322,293.4 321.5,292.6 320,290.3 318.6,287.6 318,286.4 317.2,284.5 315.7,281.2 314.3,277.6 314,276.8 312.9,273.3 311.4,267.7 310,255.4" fill="#fbe9ea" stroke="none"/><path d="M310,255.4 L311.4,267.2 L312.9,272.6 L314,276.1 L314.3,276.8 L315.7,280.3 L317.2,283.5 L318,285.4 L318.6,286.5 L320,289.1 L321.5,291.3 L322,292.1 L322.9,293.1 L324.3,294.7 L325.8,296.1 L326.1,296.3 L327.2,297.4 L328.6,298.7 L330.1,300.1 L334.1,304.4 L338.1,308.7 L342.1,313.1 L346.1,317.2 L350.2,321 L354.2,324.5 L358.2,327.9 L362.2,331.1 L366.2,334.1 L370.2,336.9 L374.3,339.5 L378.3,341.9 L382.3,344.2 L386.3,346.4 L390.3,348.6 L394.3,350.7 L398.4,352.7 L402.4,354.7 L406.4,356.5 L410.4,358.2 L414.4,359.8 L418.4,361.3 L422.4,362.7 L426.5,364 L430.5,365.3 L434.5,366.5 L438.5,367.8 L442.5,369 L446.5,370 L450.6,370.8 L454.6,371.3 L458.6,371.8 L462.6,372.2 L466.6,372.6 L470.6,373 L474.7,373.4 L478.7,373.8 L482.7,374.2 L486.7,374.6 L490.7,375 L494.7,375.3 L498.8,375.7 L502.8,376.1 L506.8,376.4 L510.8,376.8" fill="none" stroke="#f3aab3" stroke-width="0.8"/><path d="M310,255.4 L311.4,267.7 L312.9,273.3 L314,276.8 L314.3,277.6 L315.7,281.2 L317.2,284.5 L318,286.4 L318.6,287.6 L320,290.3 L321.5,292.6 L322,293.4 L322.9,294.5 L324.3,296.1 L325.8,297.6 L326.1,297.8 L327.2,298.9 L328.6,300.3 L330.1,301.8 L334.1,306 L338.1,310.4 L342.1,314.7 L346.1,318.9 L350.2,322.7 L354.2,326.2 L358.2,329.6 L362.2,332.8 L366.2,335.8 L370.2,338.6 L374.3,341.2 L378.3,343.6 L382.3,345.9 L386.3,348.1 L390.3,350.2 L394.3,352.3 L398.4,354.4 L402.4,356.4 L406.4,358.2 L410.4,359.9 L414.4,361.5 L418.4,363 L422.4,364.4 L426.5,365.7 L430.5,367 L434.5,368.2 L438.5,369.5 L442.5,370.6 L446.5,371.7 L450.6,372.4 L454.6,373 L458.6,373.5 L462.6,373.9 L466.6,374.3 L470.6,374.7 L474.7,375.1 L478.7,375.5 L482.7,375.9 L486.7,376.3 L490.7,376.7 L494.7,377 L498.8,377.4 L502.8,377.8 L506.8,378.1 L510.8,378.5" fill="none" stroke="#f3aab3" stroke-width="0.8"/><polygon points="310,255.4 311.4,265.3 312.9,269.8 314,272.8 314.3,273.5 315.7,276.8 317.2,279.5 318,280.7 318.6,281.4 320,283.1 321.5,284.5 322,285.1 322.9,285.9 324.3,287.1 325.8,288.3 326.1,288.5 327.2,289.3 328.6,290.4 330.1,291.5 334.1,295 338.1,298.7 342.1,302.6 346.1,306.5 350.2,310.2 354.2,313.7 358.2,317.2 362.2,320.5 366.2,323.6 370.2,326.5 374.3,329.1 378.3,331.5 382.3,333.7 386.3,335.9 390.3,338 394.3,340.2 398.4,342.3 402.4,344.4 406.4,346.4 410.4,348.1 414.4,349.7 418.4,351.2 422.4,352.6 426.5,353.9 430.5,355.2 434.5,356.5 438.5,357.8 442.5,359.1 446.5,360.2 450.6,361.1 454.6,361.6 458.6,362.1 462.6,362.4 466.6,362.8 470.6,363.3 474.7,363.9 478.7,364.6 482.7,365.3 486.7,366 490.7,366.7 494.7,367.4 498.8,368 502.8,368.7 506.8,369.4 510.8,370 510.8,376.9 506.8,376.3 502.8,375.6 498.8,374.9 494.7,374.2 490.7,373.6 486.7,372.9 482.7,372.1 478.7,371.4 474.7,370.8 470.6,370.2 466.6,369.7 462.6,369.3 458.6,368.9 454.6,368.5 450.6,367.9 446.5,367.1 442.5,366 438.5,364.7 434.5,363.4 430.5,362 426.5,360.8 422.4,359.4 418.4,358.1 414.4,356.6 410.4,355 406.4,353.2 402.4,351.3 398.4,349.2 394.3,347.1 390.3,344.9 386.3,342.8 382.3,340.6 378.3,338.3 374.3,336 370.2,333.4 366.2,330.5 362.2,327.4 358.2,324.1 354.2,320.6 350.2,317.1 346.1,313.4 342.1,309.5 338.1,305.3 334.1,301 330.1,296.9 328.6,295.6 327.2,294.2 326.1,293.2 325.8,292.9 324.3,291.5 322.9,290 322,289.1 321.5,288.4 320,286.7 318.6,284.7 318,283.8 317.2,282.4 315.7,279.4 314.3,275.7 314,274.9 312.9,271.4 311.4,266.4 310,255.4" fill="#eaf3fb" stroke="none"/><path d="M310,255.4 L311.4,265.3 L312.9,269.8 L314,272.8 L314.3,273.5 L315.7,276.8 L317.2,279.5 L318,280.7 L318.6,281.4 L320,283.1 L321.5,284.5 L322,285.1 L322.9,285.9 L324.3,287.1 L325.8,288.3 L326.1,288.5 L327.2,289.3 L328.6,290.4 L330.1,291.5 L334.1,295 L338.1,298.7 L342.1,302.6 L346.1,306.5 L350.2,310.2 L354.2,313.7 L358.2,317.2 L362.2,320.5 L366.2,323.6 L370.2,326.5 L374.3,329.1 L378.3,331.5 L382.3,333.7 L386.3,335.9 L390.3,338 L394.3,340.2 L398.4,342.3 L402.4,344.4 L406.4,346.4 L410.4,348.1 L414.4,349.7 L418.4,351.2 L422.4,352.6 L426.5,353.9 L430.5,355.2 L434.5,356.5 L438.5,357.8 L442.5,359.1 L446.5,360.2 L450.6,361.1 L454.6,361.6 L458.6,362.1 L462.6,362.4 L466.6,362.8 L470.6,363.3 L474.7,363.9 L478.7,364.6 L482.7,365.3 L486.7,366 L490.7,366.7 L494.7,367.4 L498.8,368 L502.8,368.7 L506.8,369.4 L510.8,370" fill="none" stroke="#9fb8d8" stroke-width="0.8"/><path d="M310,255.4 L311.4,266.4 L312.9,271.4 L314,274.9 L314.3,275.7 L315.7,279.4 L317.2,282.4 L318,283.8 L318.6,284.7 L320,286.7 L321.5,288.4 L322,289.1 L322.9,290 L324.3,291.5 L325.8,292.9 L326.1,293.2 L327.2,294.2 L328.6,295.6 L330.1,296.9 L334.1,301 L338.1,305.3 L342.1,309.5 L346.1,313.4 L350.2,317.1 L354.2,320.6 L358.2,324.1 L362.2,327.4 L366.2,330.5 L370.2,333.4 L374.3,336 L378.3,338.3 L382.3,340.6 L386.3,342.8 L390.3,344.9 L394.3,347.1 L398.4,349.2 L402.4,351.3 L406.4,353.2 L410.4,355 L414.4,356.6 L418.4,358.1 L422.4,359.4 L426.5,360.8 L430.5,362 L434.5,363.4 L438.5,364.7 L442.5,366 L446.5,367.1 L450.6,367.9 L454.6,368.5 L458.6,368.9 L462.6,369.3 L466.6,369.7 L470.6,370.2 L474.7,370.8 L478.7,371.4 L482.7,372.1 L486.7,372.9 L490.7,373.6 L494.7,374.2 L498.8,374.9 L502.8,375.6 L506.8,376.3 L510.8,376.9" fill="none" stroke="#9fb8d8" stroke-width="0.8"/><path d="M310,255.4 L311.4,265.9 L312.9,270.6 L314,273.8 L314.3,274.6 L315.7,278.1 L317.2,280.9 L318,282.2 L318.6,283 L320,284.8 L321.5,286.4 L322,287 L322.9,287.9 L324.3,289.3 L325.8,290.5 L326.1,290.8 L327.2,291.7 L328.6,292.9 L330.1,294.2 L334.1,298 L338.1,301.9 L342.1,305.9 L346.1,309.9 L350.2,313.6 L354.2,317.1 L358.2,320.6 L362.2,323.9 L366.2,327 L370.2,329.9 L374.3,332.4 L378.3,334.8 L382.3,337.1 L386.3,339.2 L390.3,341.4 L394.3,343.6 L398.4,345.7 L402.4,347.8 L406.4,349.7 L410.4,351.5 L414.4,353.1 L418.4,354.6 L422.4,355.9 L426.5,357.2 L430.5,358.5 L434.5,359.9 L438.5,361.2 L442.5,362.5 L446.5,363.6 L450.6,364.4 L454.6,365 L458.6,365.4 L462.6,365.8 L466.6,366.2 L470.6,366.7 L474.7,367.3 L478.7,367.9 L482.7,368.6 L486.7,369.4 L490.7,370 L494.7,370.7 L498.8,371.4 L502.8,372.1 L506.8,372.7 L510.8,373.4" fill="none" stroke="#33508c" stroke-width="1.2" stroke-linejoin="round"/><path d="M310,255.4 L311.4,267.4 L312.9,273 L314,276.4 L314.3,277.2 L315.7,280.8 L317.2,284 L318,285.9 L318.6,287.1 L320,289.7 L321.5,292 L322,292.7 L322.9,293.8 L324.3,295.4 L325.8,296.8 L326.1,297.1 L327.2,298.2 L328.6,299.5 L330.1,300.9 L334.1,305.2 L338.1,309.6 L342.1,313.9 L346.1,318 L350.2,321.9 L354.2,325.4 L358.2,328.8 L362.2,331.9 L366.2,334.9 L370.2,337.7 L374.3,340.3 L378.3,342.8 L382.3,345.1 L386.3,347.3 L390.3,349.4 L394.3,351.5 L398.4,353.5 L402.4,355.5 L406.4,357.4 L410.4,359.1 L414.4,360.7 L418.4,362.1 L422.4,363.5 L426.5,364.9 L430.5,366.1 L434.5,367.4 L438.5,368.6 L442.5,369.8 L446.5,370.8 L450.6,371.6 L454.6,372.2 L458.6,372.6 L462.6,373.1 L466.6,373.4 L470.6,373.8 L474.7,374.3 L478.7,374.7 L482.7,375 L486.7,375.4 L490.7,375.8 L494.7,376.2 L498.8,376.6 L502.8,376.9 L506.8,377.3 L510.8,377.6" fill="none" stroke="#d43c4c" stroke-width="2.0" stroke-linejoin="round"/><rect x="327.2" y="291.4" width="5.7" height="5.5" fill="#123f8f"/><circle cx="330.1" cy="300.9" r="2.7" fill="#fff" stroke="#d43c4c" stroke-width="1"/><rect x="367.4" y="327.1" width="5.7" height="5.5" fill="#123f8f"/><circle cx="370.2" cy="337.7" r="2.7" fill="#fff" stroke="#d43c4c" stroke-width="1"/><rect x="407.5" y="348.8" width="5.7" height="5.5" fill="#123f8f"/><circle cx="410.4" cy="359.1" r="2.7" fill="#fff" stroke="#d43c4c" stroke-width="1"/><rect x="447.7" y="361.7" width="5.7" height="5.5" fill="#123f8f"/><circle cx="450.6" cy="371.6" r="2.7" fill="#fff" stroke="#d43c4c" stroke-width="1"/><rect x="487.9" y="367.3" width="5.7" height="5.5" fill="#123f8f"/><circle cx="490.7" cy="375.8" r="2.7" fill="#fff" stroke="#d43c4c" stroke-width="1"/><line x1="448" y1="261.4" x2="474.2" y2="261.4" stroke="#22408a" stroke-width="1.2"/><rect x="458.6" y="258.8" width="5.6" height="5.2" fill="#123f8f"/><line x1="448" y1="273.2" x2="474.2" y2="273.2" stroke="#d43c4c" stroke-width="1.8"/><circle cx="461.4" cy="273.2" r="2.7" fill="#fff" stroke="#d43c4c" stroke-width="1"/><line x1="448" y1="285.2" x2="474.2" y2="285.2" stroke="#4a4a4a" stroke-width="1.3" stroke-dasharray="3.3,2.5"/><text x="476.3" y="265" font-size="10.2" fill="#262626" stroke="#262626" stroke-width="0.25" textLength="28" lengthAdjust="spacingAndGlyphs">Blacks</text><text x="476.3" y="276.8" font-size="10.2" fill="#262626" stroke="#262626" stroke-width="0.25" textLength="32.3" lengthAdjust="spacingAndGlyphs">Whites</text><text x="476.3" y="288.8" font-size="10.2" fill="#262626" stroke="#262626" stroke-width="0.25" textLength="31.6" lengthAdjust="spacingAndGlyphs">95% CI</text><text x="456.8" y="350.5" font-size="11.6" fill="#262626" stroke="#262626" stroke-width="0.25" textLength="48.5" lengthAdjust="spacingAndGlyphs">p &lt; 0.001</text><text x="270.6" y="241.2" font-size="21.6" font-weight="bold" fill="#000" stroke="#000" stroke-width="0.3">D</text><text x="377.6" y="241.6" font-size="21.6" font-weight="bold" fill="#111" stroke="#111" stroke-width="0.5" textLength="89.5" lengthAdjust="spacingAndGlyphs">≥70 Years</text><text x="353.8" y="424.2" font-size="12.1" fill="#262626" stroke="#262626" stroke-width="0.25" textLength="112.5" lengthAdjust="spacingAndGlyphs">Years After Diagnosis</text><text transform="translate(279.8,402) rotate(-90)" x="0" y="0" font-size="11.9" fill="#262626" stroke="#262626" stroke-width="0.2" textLength="150.8" lengthAdjust="spacingAndGlyphs">Disease-Specific Survival (%)</text></g>
</svg></body></html>
